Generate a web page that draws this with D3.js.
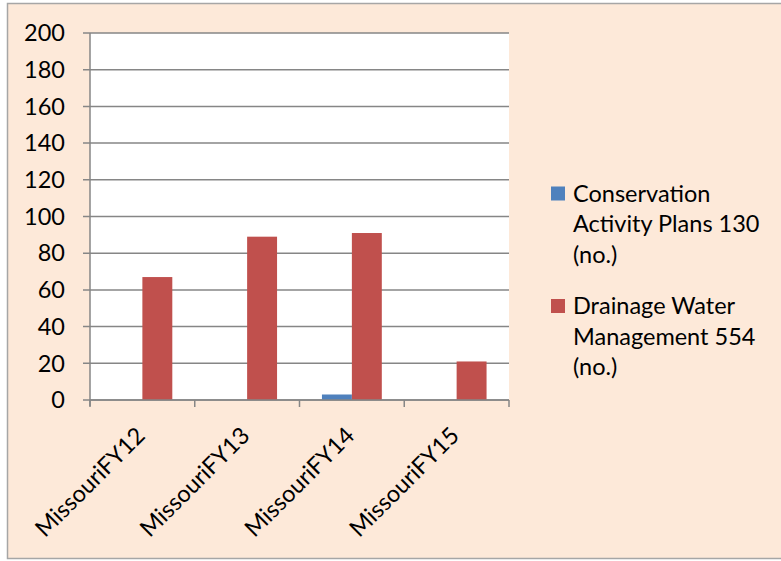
<!DOCTYPE html>
<html lang="en">
<head>
    <meta charset="UTF-8">
    <title>Missouri practices</title>
    <script src="https://d3js.org/d3.v7.min.js"></script>
</head>
<body>
<svg id="chart"></svg>
</body>

<style>
    body {
        margin: 0;
        background: #fff;
    }

    text {
        font-family: Lato, "Open Sans", sans-serif;
        font-size: 23.5px;
        fill: #000;
    }
</style>

<script>
    // chart values
    const categories = ['MissouriFY12', 'MissouriFY13', 'MissouriFY14', 'MissouriFY15'];
    const seriesNames = [
        ['Conservation', 'Activity Plans 130', '(no.)'],
        ['Drainage Water', 'Management 554', '(no.)']
    ];
    const conservationPlans = [0, 0, 3, 0];
    const drainageWater = [67, 89, 91, 21];
    const yTicks = [0, 20, 40, 60, 80, 100, 120, 140, 160, 180, 200];
    const colors = ['#4F81BD', '#C0504D'];

    const width = 781, height = 561;
    const plot = {left: 90, top: 33, right: 509, bottom: 400};

    const svg = d3.select('#chart')
        .attr('width', width)
        .attr('height', height);

    // chart background with border
    svg.append('rect')
        .attr('x', 7.5)
        .attr('y', 3.5)
        .attr('width', width + 10)
        .attr('height', 555)
        .attr('fill', '#FDE9D9')
        .attr('stroke', '#A6A6A6')
        .attr('stroke-width', 1.5);

    svg.append('rect')
        .attr('x', plot.left)
        .attr('y', plot.top)
        .attr('width', plot.right - plot.left)
        .attr('height', plot.bottom - plot.top)
        .attr('fill', '#fff');

    const x = d3.scaleBand()
        .domain(categories)
        .range([plot.left, plot.right]);

    const y = d3.scaleLinear()
        .domain([0, 200])
        .range([plot.bottom, plot.top]);

    const x1 = d3.scaleBand()
        .domain([0, 1])
        .range([0, x.bandwidth()])
        .paddingOuter(0.75);

    // gridlines
    svg.append('g')
        .selectAll('line')
        .data(yTicks)
        .join('line')
        .attr('x1', plot.left - 7)
        .attr('x2', plot.right)
        .attr('y1', d => y(d))
        .attr('y2', d => y(d))
        .attr('stroke', '#868686')
        .attr('stroke-width', 1.5);

    // y axis labels
    svg.append('g')
        .selectAll('text')
        .data(yTicks)
        .join('text')
        .attr('x', plot.left - 25)
        .attr('y', d => y(d))
        .attr('dy', '0.35em')
        .attr('text-anchor', 'end')
        .text(d => d);

    // bars
    const series = [conservationPlans, drainageWater];
    series.forEach((values, i) => {
        svg.append('g')
            .selectAll('rect')
            .data(values)
            .join('rect')
            .attr('x', (d, j) => x(categories[j]) + x1(i))
            .attr('y', d => y(d))
            .attr('width', x1.bandwidth())
            .attr('height', d => y(0) - y(d))
            .attr('fill', colors[i]);
    });

    // axes lines
    svg.append('line')
        .attr('x1', plot.left).attr('x2', plot.left)
        .attr('y1', plot.top).attr('y2', plot.bottom + 6)
        .attr('stroke', '#868686').attr('stroke-width', 1.5);

    svg.append('line')
        .attr('x1', plot.left).attr('x2', plot.right)
        .attr('y1', plot.bottom).attr('y2', plot.bottom)
        .attr('stroke', '#868686').attr('stroke-width', 1.5);

    const boundaries = categories.map(c => x(c)).concat([plot.right]);
    svg.append('g')
        .selectAll('line')
        .data(boundaries)
        .join('line')
        .attr('x1', d => d).attr('x2', d => d)
        .attr('y1', plot.bottom).attr('y2', plot.bottom + 7)
        .attr('stroke', '#868686').attr('stroke-width', 1.5);

    // x labels rotated
    svg.append('g')
        .selectAll('text')
        .data(categories)
        .join('text')
        .attr('text-anchor', 'end')
        .attr('transform', d => `translate(${x(d) + x.bandwidth() / 2 + 4},${plot.bottom + 37}) rotate(-45)`)
        .text(d => d);

    // legend
    const legend = svg.append('g');
    const legendBaseline = [201.5, 314];
    seriesNames.forEach((lines, i) => {
        legend.append('rect')
            .attr('x', 551)
            .attr('y', legendBaseline[i] - 15)
            .attr('width', 14)
            .attr('height', 14)
            .attr('fill', colors[i]);
        legend.append('text')
            .attr('x', 573)
            .attr('y', legendBaseline[i])
            .selectAll('tspan')
            .data(lines)
            .join('tspan')
            .attr('x', 573)
            .attr('dy', (d, k) => k === 0 ? 0 : 30.5)
            .text(d => d);
    });
</script>
</html>
